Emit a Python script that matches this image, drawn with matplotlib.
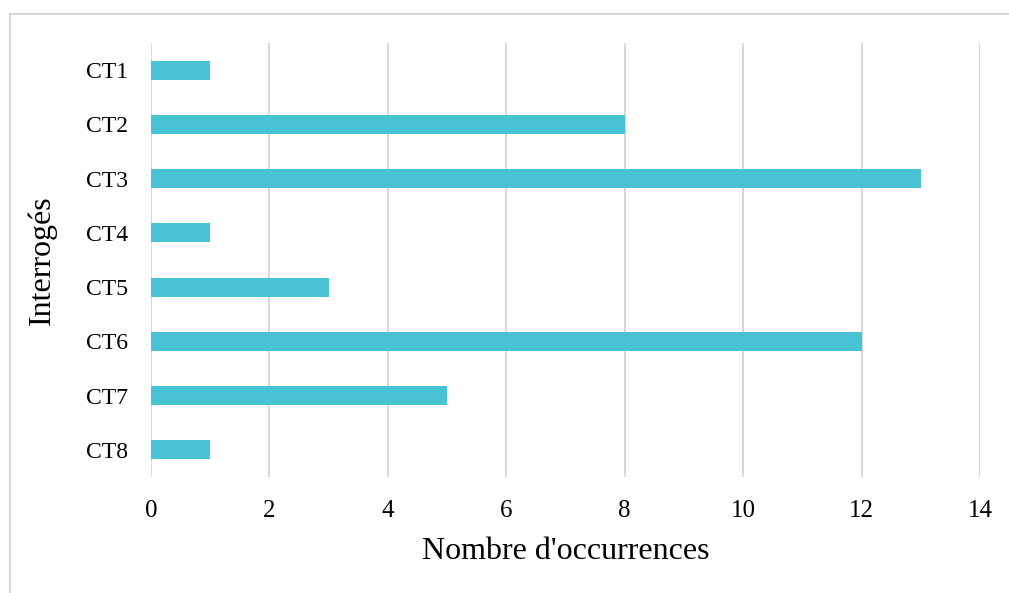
import matplotlib
matplotlib.use("Agg")
import matplotlib.pyplot as plt
from matplotlib.patches import Rectangle
import numpy as np

plt.rcParams["font.family"] = ["Liberation Serif", "DejaVu Serif"]

categories = ["CT1", "CT2", "CT3", "CT4", "CT5", "CT6", "CT7", "CT8"]
occurrences = [1, 8, 13, 1, 3, 12, 5, 1]
xticks = [0, 2, 4, 6, 8, 10, 12, 14]

W, H = 1009, 593
fig = plt.figure(figsize=(W / 100, H / 100), dpi=100)
ax = fig.add_axes([151 / W, 1 - 477 / H, (980 - 151) / W, (477 - 43) / H])

y = np.arange(len(categories))
ax.barh(y, occurrences, height=0.35, color="#47c3d3", zorder=3)
ax.set_ylim(len(categories) - 0.5, -0.5)
ax.set_xlim(0, 14)
ax.set_xticks(xticks)
ax.set_xticklabels([str(t) for t in xticks], fontsize=18)
ax.set_yticks(y)
ax.set_yticklabels(categories, fontsize=17)
ax.tick_params(length=0)
ax.tick_params(axis="x", pad=16.5)
ax.tick_params(axis="y", pad=16.5)
for s in ax.spines.values():
    s.set_visible(False)
ax.grid(axis="x", color="#d9d9d9", linewidth=1.5, zorder=0)

ax.set_xlabel("Nombre d'occurrences", fontsize=23, labelpad=11)
ax.set_ylabel("Interrogés", fontsize=23, labelpad=21)

# outer chart border
fig.patches.append(Rectangle((10 / W, -0.1), 1.1, 1 - 14 / H + 0.1,
                             transform=fig.transFigure, fill=False,
                             edgecolor="#d9d9d9", linewidth=1.5))

fig.savefig("out.png", dpi=100)
